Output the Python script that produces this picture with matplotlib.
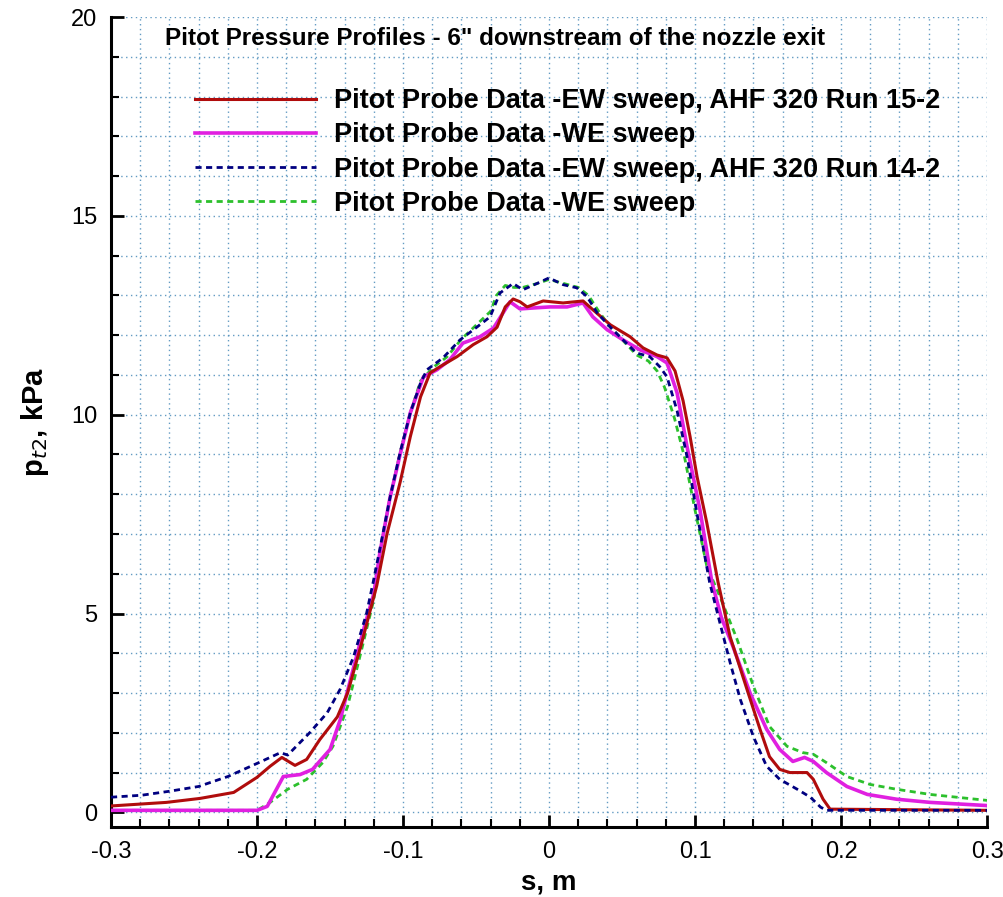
import matplotlib
matplotlib.use("Agg")
import matplotlib.pyplot as plt
from matplotlib.ticker import MultipleLocator

# Pitot probe data, AHF 320 run 15-2 (solid) and run 14-2 (dashed)
s_ew15 = [-0.3, -0.262, -0.239, -0.216, -0.2, -0.191, -0.183, -0.174, -0.166, -0.157,
          -0.145, -0.138, -0.129, -0.118, -0.111, -0.102, -0.095, -0.088, -0.0815, -0.075,
          -0.063, -0.052, -0.0425, -0.0356, -0.030, -0.0246, -0.0199, -0.015, -0.004, 0.0096,
          0.0233, 0.030, 0.042, 0.0555, 0.0644, 0.074, 0.0808, 0.0863, 0.0918, 0.0966,
          0.1014, 0.108, 0.1158, 0.124, 0.1356, 0.1445, 0.151, 0.158, 0.165, 0.1767,
          0.181, 0.1877, 0.1925, 0.3]
p_ew15 = [0.16, 0.25, 0.35, 0.5, 0.88, 1.16, 1.38, 1.18, 1.33, 1.83,
          2.4, 3.0, 4.17, 5.7, 7.0, 8.3, 9.45, 10.45, 11.05, 11.2,
          11.46, 11.76, 11.96, 12.2, 12.71, 12.91, 12.84, 12.71, 12.86, 12.81,
          12.86, 12.64, 12.26, 11.96, 11.68, 11.5, 11.43, 11.1, 10.35, 9.45,
          8.44, 7.29, 5.78, 4.42, 3.09, 2.09, 1.4, 1.08, 1.0, 1.0,
          0.83, 0.33, 0.08, 0.05]

s_we15 = [-0.3, -0.2, -0.193, -0.182, -0.1705, -0.162, -0.15, -0.143, -0.136, -0.127,
          -0.12, -0.116, -0.109, -0.102, -0.095, -0.086, -0.0767, -0.068, -0.059, -0.0473,
          -0.038, -0.0315, -0.0267, -0.0199, -0.0082, 0.0007, 0.0123, 0.0233, 0.030, 0.0397,
          0.0507, 0.0623, 0.074, 0.0808, 0.0877, 0.0945, 0.1034, 0.1116, 0.118, 0.126,
          0.1377, 0.149, 0.158, 0.167, 0.175, 0.181, 0.19, 0.204, 0.218, 0.238,
          0.261, 0.3]
p_we15 = [0.05, 0.05, 0.15, 0.9, 0.95, 1.08, 1.58, 2.33, 3.34, 4.6,
          5.5, 6.5, 7.9, 9.0, 10.05, 10.95, 11.13, 11.38, 11.8, 11.96,
          12.18, 12.56, 12.84, 12.66, 12.69, 12.71, 12.71, 12.81, 12.46, 12.14,
          11.88, 11.63, 11.46, 11.3, 10.55, 9.2, 7.6, 5.78, 4.9, 4.17,
          3.0, 2.09, 1.58, 1.28, 1.38, 1.28, 1.0, 0.65, 0.45, 0.33,
          0.25, 0.17]

s_ew14 = [-0.3, -0.279, -0.26, -0.24, -0.22, -0.2, -0.184, -0.179, -0.164, -0.152,
          -0.143, -0.134, -0.125, -0.1205, -0.116, -0.109, -0.102, -0.095, -0.088, -0.0836,
          -0.0726, -0.061, -0.0495, -0.0404, -0.0336, -0.0246, -0.018, -0.0082, 0.0, 0.0096,
          0.019, 0.026, 0.033, 0.042, 0.0507, 0.060, 0.069, 0.076, 0.0808, 0.0877,
          0.0945, 0.1014, 0.110, 0.117, 0.124, 0.131, 0.14, 0.149, 0.158, 0.17,
          0.179, 0.186, 0.19, 0.3]
p_ew14 = [0.38, 0.43, 0.53, 0.65, 0.9, 1.23, 1.5, 1.44, 2.0, 2.5,
          3.1, 3.9, 5.0, 5.78, 6.6, 7.9, 9.05, 10.05, 10.8, 11.13,
          11.43, 11.88, 12.2, 12.46, 13.06, 13.3, 13.14, 13.3, 13.44, 13.27,
          13.19, 12.97, 12.56, 12.2, 11.88, 11.55, 11.46, 11.2, 10.95, 10.1,
          8.95, 7.5, 5.78, 4.77, 3.77, 2.84, 1.9, 1.16, 0.83, 0.58,
          0.38, 0.13, 0.05, 0.05]

s_we14 = [-0.3, -0.2, -0.191, -0.179, -0.166, -0.155, -0.148, -0.138, -0.129, -0.12,
          -0.116, -0.109, -0.102, -0.095, -0.088, -0.079, -0.07, -0.06, -0.05, -0.04,
          -0.036, -0.03, -0.024, -0.018, -0.008, 0.0, 0.01, 0.02, 0.027, 0.034,
          0.042, 0.051, 0.06, 0.068, 0.074, 0.079, 0.086, 0.093, 0.1, 0.108,
          0.117, 0.1288, 0.14, 0.151, 0.163, 0.174, 0.181, 0.19, 0.204, 0.22,
          0.238, 0.261, 0.3]
p_we14 = [0.05, 0.05, 0.25, 0.58, 0.83, 1.25, 1.66, 2.66, 4.0, 5.35,
          6.5, 7.9, 9.05, 10.05, 10.85, 11.2, 11.45, 11.9, 12.25, 12.6,
          13.0, 13.25, 13.2, 13.2, 13.3, 13.4, 13.3, 13.2, 13.0, 12.6,
          12.2, 11.85, 11.5, 11.35, 11.1, 10.7, 9.9, 8.9, 7.6, 6.2,
          5.43, 4.35, 3.17, 2.16, 1.66, 1.5, 1.46, 1.25, 0.9, 0.7,
          0.58, 0.45, 0.3]

labels = ["Pitot Probe Data -EW sweep, AHF 320 Run 15-2",
          "Pitot Probe Data -WE sweep",
          "Pitot Probe Data -EW sweep, AHF 320 Run 14-2",
          "Pitot Probe Data -WE sweep"]

plt.rcParams['font.family'] = ['Liberation Sans', 'DejaVu Sans']

fig = plt.figure(figsize=(10.04, 8.97), dpi=100)
ax = fig.add_axes([0.1106, 0.078, 0.8725, 0.903])

ax.plot(s_ew15, p_ew15, color='#b00c0c', lw=2.2, label=labels[0], zorder=4)
ax.plot(s_we15, p_we15, color='#e020e0', lw=2.6, label=labels[1], zorder=3)
ax.plot(s_ew14, p_ew14, color='#000080', lw=2.0, ls=(0, (2.2, 1.6)), label=labels[2], zorder=5)
ax.plot(s_we14, p_we14, color='#2cc02c', lw=2.0, ls=(0, (2.2, 1.6)), label=labels[3], zorder=2)

ax.set_xlim(-0.3, 0.3)
ax.set_ylim(-0.37, 20)
ax.xaxis.set_major_locator(MultipleLocator(0.1))
ax.xaxis.set_minor_locator(MultipleLocator(0.02))
ax.yaxis.set_major_locator(MultipleLocator(5))
ax.yaxis.set_minor_locator(MultipleLocator(1))
ax.set_xticks([-0.3, -0.2, -0.1, 0, 0.1, 0.2, 0.3])
ax.set_xticklabels(['-0.3', '-0.2', '-0.1', '0', '0.1', '0.2', '0.3'])

ax.grid(True, which='both', color='#5290bc', ls=(0, (1, 2.5)), lw=1.0, alpha=0.9)
ax.set_axisbelow(True)

for side in ['top', 'right']:
    ax.spines[side].set_visible(False)
for side in ['left', 'bottom']:
    ax.spines[side].set_linewidth(2.2)
ax.tick_params(which='major', direction='in', length=9, width=2, labelsize=17, pad=10)
ax.tick_params(which='minor', direction='in', length=5.5, width=1.5)

ax.set_xlabel('s, m', fontsize=20, fontweight='bold', labelpad=5)
ax.set_ylabel(r'p$_{\mathit{t2}}$, kPa', fontsize=21, fontweight='bold', labelpad=14)

ax.text(-0.263, 19.45, 'Pitot Pressure Profiles - 6" downstream of the nozzle exit',
        fontsize=17.5, fontweight='bold', va='center', ha='left')

leg = ax.legend(loc='upper left', bbox_to_anchor=(0.096, 0.912), frameon=False,
                fontsize=19.5, handlelength=4.45, handletextpad=0.68,
                labelspacing=0.30, borderpad=0, borderaxespad=0)
for t in leg.get_texts():
    t.set_fontweight('bold')

fig.savefig('out.png', dpi=100)
